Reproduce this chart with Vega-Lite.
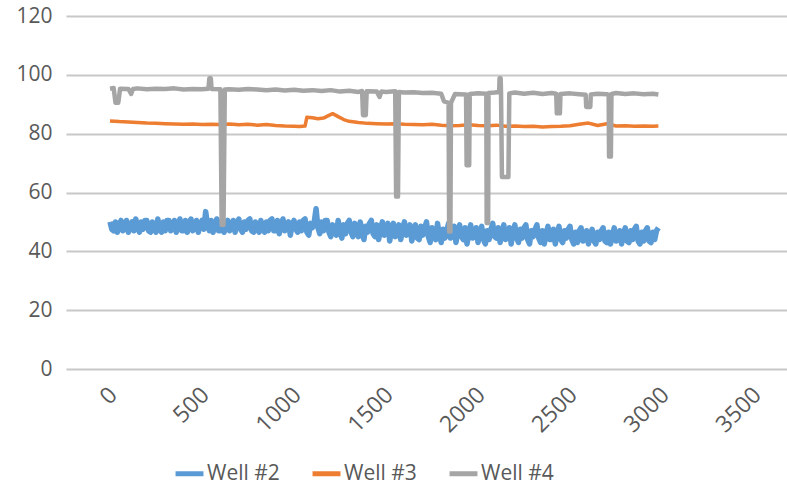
{
  "$schema": "https://vega.github.io/schema/vega-lite/v6.json",
  "width": 721,
  "height": 353,
  "autosize": {"type": "none"},
  "padding": {"left": 66, "top": 16, "right": 0, "bottom": 127},
  "background": "white",
  "config": {
    "view": {"stroke": null},
    "font": "Open Sans",
    "axis": {"labelColor": "#595959", "labelFontSize": 20, "labelFont": "Open Sans", "title": null, "domain": false, "ticks": false}
  },
  "datasets": {
    "w2": [
      {"x":0,"y":50},{"x":10,"y":47.5},{"x":20,"y":47},{"x":30,"y":50},{"x":40,"y":46.5},{"x":50,"y":49},{"x":60,"y":50.5},{"x":70,"y":47},{"x":80,"y":48},{"x":90,"y":50.5},
      {"x":100,"y":46.5},{"x":110,"y":48},{"x":120,"y":50},{"x":130,"y":47},{"x":140,"y":51},{"x":150,"y":48.5},{"x":160,"y":46.5},{"x":170,"y":50},{"x":180,"y":47.5},{"x":190,"y":50.5},
      {"x":200,"y":50.5},{"x":210,"y":47},{"x":220,"y":46.5},{"x":230,"y":50},{"x":240,"y":49},{"x":250,"y":46.5},{"x":260,"y":51},{"x":270,"y":48},{"x":280,"y":46.5},{"x":290,"y":50},
      {"x":300,"y":47},{"x":310,"y":50.5},{"x":320,"y":50.5},{"x":330,"y":47},{"x":340,"y":48},{"x":350,"y":50.5},{"x":360,"y":46.5},{"x":370,"y":49},{"x":380,"y":51},{"x":390,"y":47},
      {"x":400,"y":47},{"x":410,"y":50.5},{"x":420,"y":46.5},{"x":430,"y":49.5},{"x":440,"y":51},{"x":450,"y":47},{"x":460,"y":48.5},{"x":470,"y":50.5},{"x":480,"y":46.5},{"x":490,"y":49},
      {"x":500,"y":50.5},{"x":510,"y":47.5},{"x":520,"y":53.5},{"x":530,"y":49},{"x":540,"y":47},{"x":550,"y":50.5},{"x":560,"y":46.5},{"x":570,"y":49},{"x":580,"y":51},{"x":590,"y":47},
      {"x":600,"y":47},{"x":610,"y":50.5},{"x":620,"y":46.5},{"x":630,"y":49},{"x":640,"y":50.5},{"x":650,"y":47},{"x":660,"y":48},{"x":670,"y":50.5},{"x":680,"y":46.5},{"x":690,"y":49.5},
      {"x":700,"y":51},{"x":710,"y":47.5},{"x":720,"y":46.5},{"x":730,"y":50},{"x":740,"y":47.5},{"x":750,"y":50.5},{"x":760,"y":51},{"x":770,"y":47},{"x":780,"y":46.5},{"x":790,"y":50},
      {"x":800,"y":48},{"x":810,"y":46.5},{"x":820,"y":50.5},{"x":830,"y":48},{"x":840,"y":46.5},{"x":850,"y":50},{"x":860,"y":47},{"x":870,"y":50.5},{"x":880,"y":51},{"x":890,"y":47},
      {"x":900,"y":47},{"x":910,"y":50.5},{"x":920,"y":46},{"x":930,"y":49},{"x":940,"y":51},{"x":950,"y":47},{"x":960,"y":48},{"x":970,"y":50},{"x":980,"y":45.5},{"x":990,"y":49},
      {"x":1000,"y":50.5},{"x":1010,"y":47.5},{"x":1020,"y":46.5},{"x":1030,"y":50},{"x":1040,"y":47},{"x":1050,"y":50.5},{"x":1060,"y":51},{"x":1070,"y":46.5},{"x":1080,"y":45.5},{"x":1090,"y":49.5},
      {"x":1100,"y":48},{"x":1110,"y":50},{"x":1120,"y":54.5},{"x":1130,"y":48},{"x":1140,"y":46},{"x":1150,"y":50},{"x":1160,"y":47},{"x":1170,"y":50.5},{"x":1180,"y":50.5},{"x":1190,"y":46.5},
      {"x":1200,"y":45},{"x":1210,"y":49},{"x":1220,"y":47.5},{"x":1230,"y":45.5},{"x":1240,"y":50.5},{"x":1250,"y":47},{"x":1260,"y":44.5},{"x":1270,"y":49},{"x":1280,"y":46},{"x":1290,"y":49.5},
      {"x":1300,"y":50.5},{"x":1310,"y":46.5},{"x":1320,"y":45},{"x":1330,"y":49.5},{"x":1340,"y":48},{"x":1350,"y":45},{"x":1360,"y":50},{"x":1370,"y":46.5},{"x":1380,"y":44},{"x":1390,"y":48.5},
      {"x":1400,"y":46.5},{"x":1410,"y":49.5},{"x":1420,"y":50.5},{"x":1430,"y":46},{"x":1440,"y":45},{"x":1450,"y":49},{"x":1460,"y":44},{"x":1470,"y":47.5},{"x":1480,"y":50},{"x":1490,"y":45.5},
      {"x":1500,"y":47},{"x":1510,"y":49.5},{"x":1520,"y":43.5},{"x":1530,"y":47},{"x":1540,"y":49.5},{"x":1550,"y":45},{"x":1560,"y":45.5},{"x":1570,"y":49},{"x":1580,"y":44},{"x":1590,"y":47.5},
      {"x":1600,"y":50},{"x":1610,"y":45.5},{"x":1620,"y":46},{"x":1630,"y":49},{"x":1640,"y":43.5},{"x":1650,"y":46.5},{"x":1660,"y":49},{"x":1670,"y":44.5},{"x":1680,"y":44},{"x":1690,"y":48.5},
      {"x":1700,"y":45.5},{"x":1710,"y":48},{"x":1720,"y":50},{"x":1730,"y":45},{"x":1740,"y":43},{"x":1750,"y":48},{"x":1760,"y":46},{"x":1770,"y":44},{"x":1780,"y":49.5},{"x":1790,"y":45.5},
      {"x":1800,"y":43},{"x":1810,"y":47.5},{"x":1820,"y":44.5},{"x":1830,"y":47},{"x":1840,"y":49.5},{"x":1850,"y":44.5},{"x":1860,"y":45},{"x":1870,"y":48.5},{"x":1880,"y":43},{"x":1890,"y":46.5},
      {"x":1900,"y":49},{"x":1910,"y":45},{"x":1920,"y":44},{"x":1930,"y":48},{"x":1940,"y":42.5},{"x":1950,"y":46},{"x":1960,"y":49},{"x":1970,"y":44.5},{"x":1980,"y":45},{"x":1990,"y":48},
      {"x":2000,"y":43},{"x":2010,"y":46.5},{"x":2020,"y":48.5},{"x":2030,"y":44},{"x":2040,"y":42.5},{"x":2050,"y":47},{"x":2060,"y":44},{"x":2070,"y":47.5},{"x":2080,"y":49.5},{"x":2090,"y":45},
      {"x":2100,"y":44.5},{"x":2110,"y":48},{"x":2120,"y":43},{"x":2130,"y":46.5},{"x":2140,"y":49},{"x":2150,"y":44},{"x":2160,"y":45},{"x":2170,"y":48},{"x":2180,"y":42.5},{"x":2190,"y":46.5},
      {"x":2200,"y":49},{"x":2210,"y":44.5},{"x":2220,"y":43},{"x":2230,"y":47.5},{"x":2240,"y":44.5},{"x":2250,"y":48},{"x":2260,"y":49},{"x":2270,"y":44},{"x":2280,"y":42.5},{"x":2290,"y":47},
      {"x":2300,"y":45},{"x":2310,"y":47.5},{"x":2320,"y":49},{"x":2330,"y":44.5},{"x":2340,"y":43},{"x":2350,"y":47},{"x":2360,"y":42.5},{"x":2370,"y":46},{"x":2380,"y":48.5},{"x":2390,"y":44},
      {"x":2400,"y":44},{"x":2410,"y":47.5},{"x":2420,"y":42.5},{"x":2430,"y":46},{"x":2440,"y":48.5},{"x":2450,"y":44},{"x":2460,"y":43},{"x":2470,"y":47},{"x":2480,"y":44.5},{"x":2490,"y":47.5},
      {"x":2500,"y":48.5},{"x":2510,"y":44},{"x":2520,"y":42.5},{"x":2530,"y":46.5},{"x":2540,"y":43},{"x":2550,"y":47},{"x":2560,"y":48},{"x":2570,"y":43.5},{"x":2580,"y":44},{"x":2590,"y":47},
      {"x":2600,"y":42.5},{"x":2610,"y":45.5},{"x":2620,"y":47.5},{"x":2630,"y":43.5},{"x":2640,"y":42.5},{"x":2650,"y":46.5},{"x":2660,"y":44},{"x":2670,"y":47},{"x":2680,"y":48},{"x":2690,"y":43.5},
      {"x":2700,"y":43},{"x":2710,"y":46.5},{"x":2720,"y":42.5},{"x":2730,"y":45.5},{"x":2740,"y":48},{"x":2750,"y":43.5},{"x":2760,"y":44},{"x":2770,"y":47},{"x":2780,"y":42.5},{"x":2790,"y":46},
      {"x":2800,"y":48},{"x":2810,"y":43.5},{"x":2820,"y":43},{"x":2830,"y":47},{"x":2840,"y":44},{"x":2850,"y":47.5},{"x":2860,"y":48.5},{"x":2870,"y":43.5},{"x":2880,"y":42.5},{"x":2890,"y":46.5},
      {"x":2900,"y":43.5},{"x":2910,"y":47},{"x":2920,"y":48},{"x":2930,"y":43.5},{"x":2940,"y":43},{"x":2950,"y":46.5},{"x":2960,"y":44},{"x":2970,"y":47},{"x":2980,"y":48}
    ],
    "w3": [
      {"x":0,"y":84.3},{"x":50,"y":84.1},{"x":100,"y":84},{"x":150,"y":83.8},{"x":200,"y":83.6},{"x":250,"y":83.5},{"x":300,"y":83.4},{"x":350,"y":83.3},{"x":400,"y":83.2},{"x":450,"y":83.3},
      {"x":500,"y":83.1},{"x":550,"y":83.2},{"x":600,"y":83.1},{"x":650,"y":83.3},{"x":700,"y":83},{"x":750,"y":83.2},{"x":800,"y":82.9},{"x":850,"y":83.1},{"x":900,"y":82.8},{"x":950,"y":82.6},
      {"x":1000,"y":82.5},{"x":1030,"y":82.4},{"x":1060,"y":82.6},{"x":1070,"y":85.6},{"x":1100,"y":85.4},{"x":1130,"y":85.1},{"x":1160,"y":85.3},{"x":1190,"y":86.2},{"x":1210,"y":86.8},{"x":1240,"y":85.8},
      {"x":1270,"y":84.8},{"x":1300,"y":84.2},{"x":1350,"y":83.8},{"x":1400,"y":83.5},{"x":1450,"y":83.4},{"x":1500,"y":83.3},{"x":1550,"y":83.4},{"x":1600,"y":83.2},{"x":1650,"y":83.1},{"x":1700,"y":83},
      {"x":1750,"y":83.2},{"x":1800,"y":82.9},{"x":1850,"y":82.7},{"x":1900,"y":82.8},{"x":1950,"y":83},{"x":2000,"y":82.8},{"x":2050,"y":82.7},{"x":2100,"y":82.9},{"x":2150,"y":82.5},{"x":2200,"y":82.6},
      {"x":2250,"y":82.4},{"x":2300,"y":82.5},{"x":2350,"y":82.3},{"x":2400,"y":82.4},{"x":2450,"y":82.5},{"x":2500,"y":82.7},{"x":2550,"y":83.2},{"x":2600,"y":83.6},{"x":2630,"y":83.1},{"x":2650,"y":82.8},
      {"x":2700,"y":83.4},{"x":2750,"y":82.6},{"x":2800,"y":82.7},{"x":2850,"y":82.5},{"x":2900,"y":82.6},{"x":2950,"y":82.5},{"x":2980,"y":82.6}
    ],
    "w4": [
      {"x":0,"y":95.3},{"x":20,"y":95.5},{"x":30,"y":90.5},{"x":45,"y":90.5},{"x":55,"y":95.3},{"x":100,"y":95.2},{"x":115,"y":93.5},{"x":125,"y":95.2},{"x":150,"y":95.4},{"x":200,"y":95.1},
      {"x":250,"y":95.3},{"x":300,"y":95.2},{"x":350,"y":95.4},{"x":400,"y":95},{"x":450,"y":95.2},{"x":500,"y":95.1},{"x":535,"y":95.3},{"x":540,"y":98.8},{"x":548,"y":98.8},{"x":552,"y":95.2},
      {"x":600,"y":95.1},{"x":607,"y":49},{"x":617,"y":49},{"x":624,"y":95},{"x":650,"y":95.1},{"x":700,"y":94.9},{"x":750,"y":95.2},{"x":800,"y":95},{"x":850,"y":94.8},{"x":900,"y":95},
      {"x":950,"y":94.7},{"x":1000,"y":94.9},{"x":1050,"y":94.6},{"x":1100,"y":94.8},{"x":1150,"y":94.5},{"x":1200,"y":94.8},{"x":1250,"y":94.3},{"x":1300,"y":94.6},{"x":1350,"y":94.2},{"x":1370,"y":94.5},
      {"x":1375,"y":86.3},{"x":1390,"y":86.3},{"x":1395,"y":94.4},{"x":1450,"y":94.3},{"x":1465,"y":92.5},{"x":1475,"y":94.3},{"x":1500,"y":94.2},{"x":1550,"y":94.4},{"x":1555,"y":58.6},{"x":1565,"y":58.6},
      {"x":1570,"y":94.2},{"x":1600,"y":94},{"x":1650,"y":94.1},{"x":1700,"y":93.8},{"x":1750,"y":93.9},{"x":1800,"y":93.6},{"x":1815,"y":91},{"x":1840,"y":90.5},{"x":1843,"y":46.7},{"x":1850,"y":46.7},
      {"x":1853,"y":90.5},{"x":1875,"y":93.5},{"x":1900,"y":93.4},{"x":1935,"y":93.3},{"x":1938,"y":69.3},{"x":1952,"y":69.3},{"x":1955,"y":93.5},{"x":2000,"y":93.7},{"x":2045,"y":93.6},{"x":2047,"y":49.6},
      {"x":2055,"y":49.6},{"x":2057,"y":93.8},{"x":2090,"y":94},{"x":2115,"y":94.2},{"x":2117,"y":98.8},{"x":2123,"y":98.8},{"x":2125,"y":94},{"x":2130,"y":65.3},{"x":2165,"y":65.3},{"x":2170,"y":93.7},
      {"x":2200,"y":94},{"x":2250,"y":93.6},{"x":2300,"y":93.9},{"x":2350,"y":93.5},{"x":2400,"y":93.8},{"x":2425,"y":93.6},{"x":2428,"y":86.9},{"x":2445,"y":86.9},{"x":2448,"y":93.5},{"x":2500,"y":93.7},
      {"x":2550,"y":93.4},{"x":2585,"y":93.2},{"x":2588,"y":89.1},{"x":2610,"y":89.1},{"x":2613,"y":93.3},{"x":2650,"y":93.6},{"x":2700,"y":93.4},{"x":2710,"y":93.2},{"x":2712,"y":72.2},{"x":2722,"y":72.2},
      {"x":2725,"y":93.5},{"x":2750,"y":93.8},{"x":2800,"y":93.5},{"x":2850,"y":93.7},{"x":2900,"y":93.4},{"x":2950,"y":93.6},{"x":2980,"y":93.3}
    ]
  },
  "encoding": {
    "x": {
      "field": "x", "type": "quantitative",
      "scale": {"domain": [-239, 3679], "nice": false, "zero": false},
      "axis": {"values": [0, 500, 1000, 1500, 2000, 2500, 3000, 3500], "format": "d", "grid": false, "labelAngle": -45, "labelAlign": "right", "labelBaseline": "middle", "labelPadding": 22, "labelOffset": 3, "labelFontSize": 23}
    },
    "y": {
      "field": "y", "type": "quantitative",
      "scale": {"domain": [0, 120], "nice": false},
      "axis": {"values": [0, 20, 40, 60, 80, 100, 120], "grid": true, "gridColor": "#c8c8c8", "gridWidth": 2, "labelPadding": 14, "labelFontSize": 21}
    }
  },
  "layer": [
    {
      "data": {"name": "w2"},
      "mark": {"type": "line", "strokeWidth": 5.5, "strokeJoin": "round"},
      "encoding": {
        "color": {
          "datum": "Well #2",
          "scale": {"domain": ["Well #2", "Well #3", "Well #4"], "range": ["#5B9BD5", "#ED7D31", "#A5A5A5"]},
          "legend": {
            "title": null, "orient": "none", "legendX": 107, "legendY": 441, "direction": "horizontal",
            "symbolType": "stroke", "symbolSize": 780, "symbolStrokeWidth": 5,
            "labelFontSize": 21, "labelColor": "#595959", "labelFont": "Open Sans", "labelOffset": 1, "columnPadding": 22
          }
        }
      }
    },
    {
      "data": {"name": "w3"},
      "mark": {"type": "line", "strokeWidth": 3.5, "strokeJoin": "round"},
      "encoding": {"color": {"datum": "Well #3"}}
    },
    {
      "data": {"name": "w4"},
      "mark": {"type": "line", "strokeWidth": 4.5, "strokeJoin": "round"},
      "encoding": {"color": {"datum": "Well #4"}}
    }
  ]
}
